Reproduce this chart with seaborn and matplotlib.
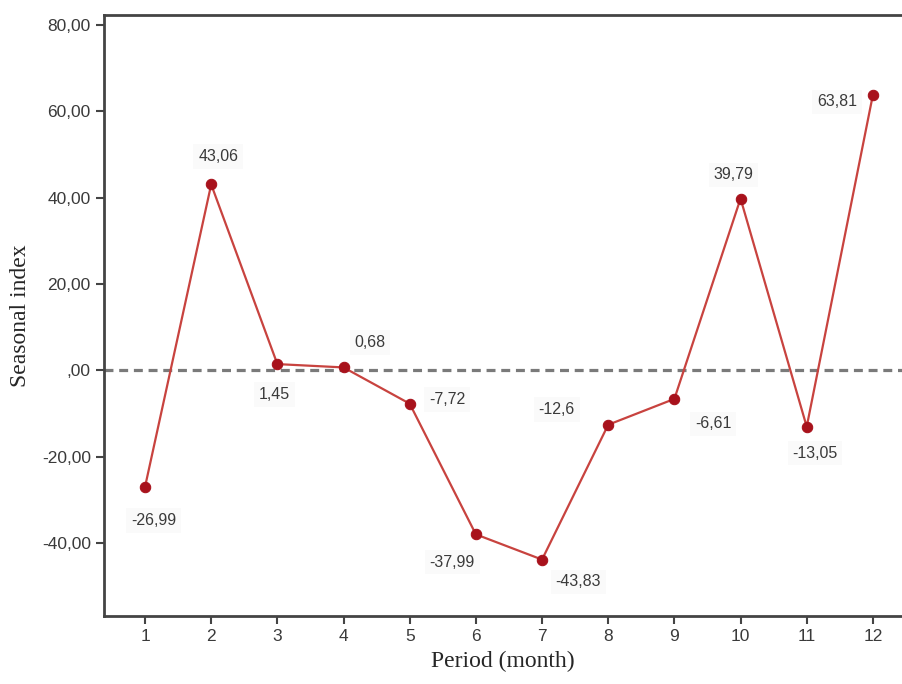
import numpy as np
import pandas as pd
import matplotlib
matplotlib.use('Agg')
import matplotlib.pyplot as plt
import seaborn as sns

months = [1, 2, 3, 4, 5, 6, 7, 8, 9, 10, 11, 12]
seasonal_index = [-26.99, 43.06, 1.45, 0.68, -7.72, -37.99, -43.83, -12.6, -6.61, 39.79, -13.05, 63.81]
point_labels = ['-26,99', '43,06', '1,45', '0,68', '-7,72', '-37,99', '-43,83', '-12,6', '-6,61', '39,79', '-13,05', '63,81']
y_ticks = [-40, -20, 0, 20, 40, 60, 80]
y_tick_labels = ['-40,00', '-20,00', ',00', '20,00', '40,00', '60,00', '80,00']

# label offsets in points (dx, dy) relative to each marker
offsets = [(6, -24), (5, 20), (-2, -22), (19, 18), (27, 3), (-17, -20),
           (26, -16), (-37, 11), (28, -18), (-5, 17), (6, -19), (-26, -5)]

df = pd.DataFrame({'month': months, 'index': seasonal_index})

sns.set_style('white')
plt.rcParams['font.family'] = ['Liberation Sans', 'DejaVu Sans']

fig = plt.figure(figsize=(9.02, 6.84), dpi=100)
ax = fig.add_axes([0.1153, 0.0994, 0.8847, 0.8786])

ax.axhline(0, color='#7a7a7a', linestyle=(0, (2.8, 1.8)), linewidth=2.3, zorder=1)
sns.lineplot(data=df, x='month', y='index', ax=ax, color='#c8433f', linewidth=1.6,
             marker='o', markersize=7.5, markerfacecolor='#a8121c',
             markeredgecolor='#a8121c', zorder=3)

for x, y, lab, (dx, dy) in zip(months, seasonal_index, point_labels, offsets):
    ax.annotate(lab, (x, y), xytext=(dx, dy), textcoords='offset points',
                ha='center', va='center', fontsize=11.5, color='#3a3a3a',
                bbox=dict(boxstyle='square,pad=0.3', fc='#fafafa', ec='none'))

ax.set_xlim(0.38, 12.44)
ax.set_ylim(-56.9, 82.3)
ax.set_xticks(months)
ax.set_xticklabels([str(m) for m in months])
ax.set_yticks(y_ticks)
ax.set_yticklabels(y_tick_labels)
ax.tick_params(axis='both', which='both', direction='out', length=6, width=1.5,
               color='#444444', labelsize=12.5, labelcolor='#3a3a3a',
               left=True, bottom=True)

for side in ['left', 'bottom', 'top']:
    ax.spines[side].set_color('#444444')
    ax.spines[side].set_linewidth(2)
ax.spines['right'].set_visible(False)

ax.set_xlabel('Period (month)', fontsize=17, family=['Liberation Serif', 'DejaVu Serif'], labelpad=5)
ax.set_ylabel('Seasonal index', fontsize=17, family=['Liberation Serif', 'DejaVu Serif'], labelpad=8)

fig.savefig('out.png', dpi=100)
